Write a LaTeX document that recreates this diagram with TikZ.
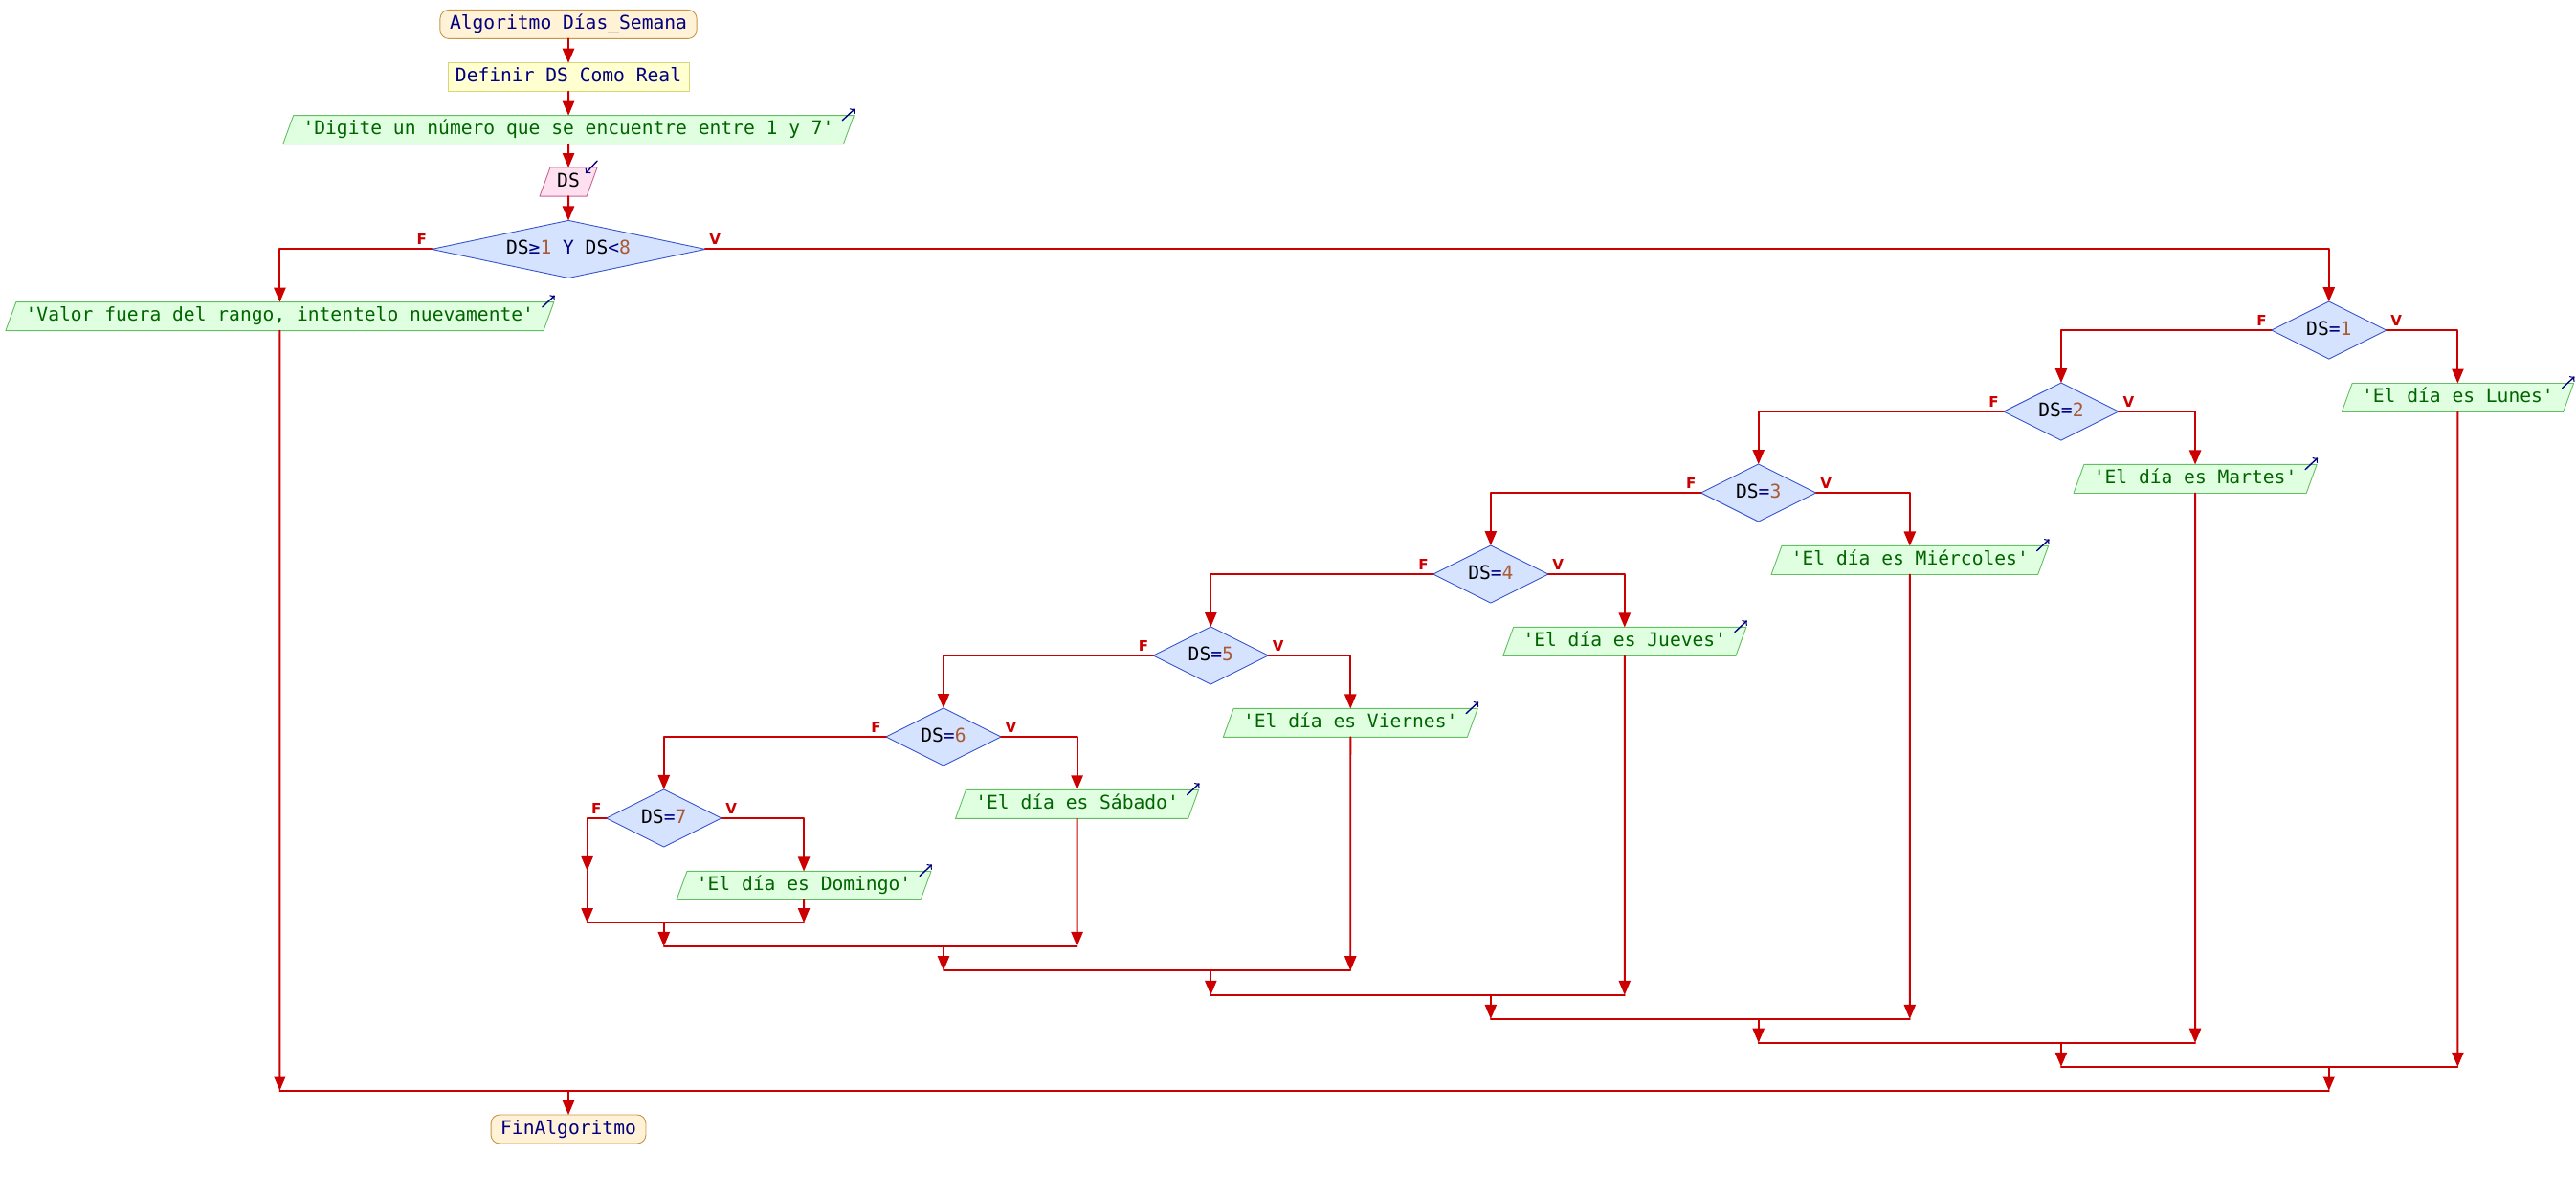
\documentclass[tikz,border=0pt]{standalone}
\usepackage{fontspec}
\setmonofont{DejaVu Sans Mono}
\setsansfont{DejaVu Sans}
\usetikzlibrary{arrows,shapes.geometric}
\definecolor{rojoflujo}{RGB}{204,0,0}
\definecolor{azulkw}{RGB}{0,0,128}
\definecolor{verdetxt}{RGB}{0,100,0}
\definecolor{marronnum}{RGB}{170,90,50}
\definecolor{rellenorombo}{RGB}{214,227,255}
\definecolor{borderombo}{RGB}{55,85,205}
\definecolor{rellenoterm}{RGB}{255,242,214}
\definecolor{bordeterm}{RGB}{200,150,70}
\definecolor{rellenodef}{RGB}{255,255,208}
\definecolor{bordedef}{RGB}{215,215,120}
\definecolor{rellenosal}{RGB}{224,255,224}
\definecolor{bordesal}{RGB}{100,190,100}
\definecolor{rellenoent}{RGB}{255,224,240}
\definecolor{bordeent}{RGB}{200,100,150}
\newcommand{\kw}[1]{\textcolor{azulkw}{#1}}
\newcommand{\nm}[1]{\textcolor{marronnum}{#1}}

\begin{document}
\begin{tikzpicture}[line cap=round,line join=round,>=triangle 45,x=0.04cm,y=0.04cm,
	caja/.style={draw,line width=0.6pt,outer sep=0pt,text height=9.6pt,text depth=2.9pt,inner ysep=3.7pt,font=\ttfamily\fontsize{13}{14}\selectfont},
	terminal/.style={caja,rectangle,rounded corners=6pt,fill=rellenoterm,draw=bordeterm,inner xsep=0.235cm,text=azulkw},
	definicion/.style={caja,rectangle,fill=rellenodef,draw=bordedef,inner xsep=0.186cm,text=azulkw},
	salida/.style={caja,trapezium,trapezium left angle=70,trapezium right angle=110,fill=rellenosal,draw=bordesal,inner xsep=0.23cm,text=verdetxt},
	entrada/.style={caja,trapezium,trapezium left angle=70,trapezium right angle=110,fill=rellenoent,draw=bordeent,inner xsep=0.17cm},
	rombo/.style={caja,diamond,aspect=3,inner sep=0pt,minimum width=2.8cm,minimum height=1.4cm,fill=rellenorombo,draw=borderombo},
	flujo/.style={draw=rojoflujo,line width=1.3pt},
	rotulo/.style={text=rojoflujo,font=\sffamily\bfseries\fontsize{10}{11}\selectfont,inner sep=0pt},
	icono/.style={draw=azulkw,line width=0.9pt,-to}]
	\useasboundingbox (0,0) rectangle (1568,-716);
	\node[terminal] (inicio) at (346,-14.8) {Algoritmo Días\_Semana};
	\node[definicion] (definir) at (346,-47) {Definir DS Como Real};
	\node[salida] (pedir) at (346,-79) {'Digite un número que se encuentre entre 1 y 7'};
	\node[entrada] (leer) at (346,-110.7) {DS};
	\node[rombo,aspect=5,minimum width=6.66cm] (cond) at (346,-151.7) {DS\kw{≥}\nm{1} \kw{Y} DS\kw{<}\nm{8}};
	\node[salida] (fuera) at (170.3,-192.6) {'Valor fuera del rango, intentelo nuevamente'};
	\node[rombo] (d1) at (1417.6,-201) {DS\kw{=}\nm{1}};
	\node[salida] (lunes) at (1496,-242) {'El día es Lunes'};
	\node[rombo] (d2) at (1254.6,-250.5) {DS\kw{=}\nm{2}};
	\node[salida] (martes) at (1336.2,-291.5) {'El día es Martes'};
	\node[rombo] (d3) at (1070.4,-300) {DS\kw{=}\nm{3}};
	\node[salida] (miercoles) at (1162.5,-341) {'El día es Miércoles'};
	\node[rombo] (d4) at (907.4,-349.5) {DS\kw{=}\nm{4}};
	\node[salida] (jueves) at (988.9,-390.5) {'El día es Jueves'};
	\node[rombo] (d5) at (737,-399) {DS\kw{=}\nm{5}};
	\node[salida] (viernes) at (822,-440) {'El día es Viernes'};
	\node[rombo] (d6) at (574.3,-448.5) {DS\kw{=}\nm{6}};
	\node[salida] (sabado) at (655.6,-489.5) {'El día es Sábado'};
	\node[rombo] (d7) at (404.1,-498) {DS\kw{=}\nm{7}};
	\node[salida] (domingo) at (489.3,-539) {'El día es Domingo'};
	\node[terminal] (fin) at (346,-687.3) {FinAlgoritmo};
	\coordinate (c7) at (357.4,-530);
	\coordinate (j7l) at (357.4,-561.5);
	\coordinate (j7m) at (404.1,-561.5);
	\coordinate (j7r) at (489.3,-561.5);
	\coordinate (j6l) at (404.1,-576);
	\coordinate (j6m) at (574.3,-576);
	\coordinate (j6r) at (655.6,-576);
	\coordinate (j5l) at (574.3,-590.7);
	\coordinate (j5m) at (737,-590.7);
	\coordinate (j5r) at (822,-590.7);
	\coordinate (j4l) at (737,-605.6);
	\coordinate (j4m) at (907.4,-605.6);
	\coordinate (j4r) at (988.9,-605.6);
	\coordinate (j3l) at (907.4,-620.2);
	\coordinate (j3m) at (1070.4,-620.2);
	\coordinate (j3r) at (1162.5,-620.2);
	\coordinate (j2l) at (1070.4,-634.7);
	\coordinate (j2m) at (1254.6,-634.7);
	\coordinate (j2r) at (1336.2,-634.7);
	\coordinate (j1l) at (1254.6,-649.3);
	\coordinate (j1m) at (1417.6,-649.3);
	\coordinate (j1r) at (1496,-649.3);
	\coordinate (j0l) at (170.3,-663.8);
	\coordinate (j0m) at (346,-663.8);
	\coordinate (j0r) at (1417.6,-663.8);
	\draw[flujo,->] (inicio) -- (definir);
	\draw[flujo,->] (definir) -- (pedir);
	\draw[flujo,->] (pedir) -- (leer);
	\draw[flujo,->] (leer) -- (cond);
	\draw[flujo,->] (cond.west) -| (fuera.north);
	\draw[flujo,->] (cond.east) -| (d1.north);
	\draw[flujo,->] (d1.east) -| (lunes.north);
	\draw[flujo,->] (d1.west) -| (d2.north);
	\draw[flujo,->] (d2.east) -| (martes.north);
	\draw[flujo,->] (d2.west) -| (d3.north);
	\draw[flujo,->] (d3.east) -| (miercoles.north);
	\draw[flujo,->] (d3.west) -| (d4.north);
	\draw[flujo,->] (d4.east) -| (jueves.north);
	\draw[flujo,->] (d4.west) -| (d5.north);
	\draw[flujo,->] (d5.east) -| (viernes.north);
	\draw[flujo,->] (d5.west) -| (d6.north);
	\draw[flujo,->] (d6.east) -| (sabado.north);
	\draw[flujo,->] (d6.west) -| (d7.north);
	\draw[flujo,->] (d7.east) -| (domingo.north);
	\draw[flujo,->] (d7.west) -| (c7);
	\draw[flujo,->] (c7) -- (j7l);
	\draw[flujo,->] (domingo) -- (j7r);
	\draw[flujo] (j7l) -- (j7r);
	\draw[flujo,->] (j7m) -- (j6l);
	\draw[flujo,->] (sabado) -- (j6r);
	\draw[flujo] (j6l) -- (j6r);
	\draw[flujo,->] (j6m) -- (j5l);
	\draw[flujo,->] (viernes) -- (j5r);
	\draw[flujo] (j5l) -- (j5r);
	\draw[flujo,->] (j5m) -- (j4l);
	\draw[flujo,->] (jueves) -- (j4r);
	\draw[flujo] (j4l) -- (j4r);
	\draw[flujo,->] (j4m) -- (j3l);
	\draw[flujo,->] (miercoles) -- (j3r);
	\draw[flujo] (j3l) -- (j3r);
	\draw[flujo,->] (j3m) -- (j2l);
	\draw[flujo,->] (martes) -- (j2r);
	\draw[flujo] (j2l) -- (j2r);
	\draw[flujo,->] (j2m) -- (j1l);
	\draw[flujo,->] (lunes) -- (j1r);
	\draw[flujo] (j1l) -- (j1r);
	\draw[flujo,->] (j1m) -- (j0r);
	\draw[flujo,->] (fuera) -- (j0l);
	\draw[flujo] (j0l) -- (j0r);
	\draw[flujo,->] (j0m) -- (fin);
	\node[rotulo] (condf) at ([shift={(-6,6)}]cond.west) {F};
	\node[rotulo] (condv) at ([shift={(6,6)}]cond.east) {V};
	\node[rotulo] (d1f) at ([shift={(-6,6)}]d1.west) {F};
	\node[rotulo] (d1v) at ([shift={(6,6)}]d1.east) {V};
	\node[rotulo] (d2f) at ([shift={(-6,6)}]d2.west) {F};
	\node[rotulo] (d2v) at ([shift={(6,6)}]d2.east) {V};
	\node[rotulo] (d3f) at ([shift={(-6,6)}]d3.west) {F};
	\node[rotulo] (d3v) at ([shift={(6,6)}]d3.east) {V};
	\node[rotulo] (d4f) at ([shift={(-6,6)}]d4.west) {F};
	\node[rotulo] (d4v) at ([shift={(6,6)}]d4.east) {V};
	\node[rotulo] (d5f) at ([shift={(-6,6)}]d5.west) {F};
	\node[rotulo] (d5v) at ([shift={(6,6)}]d5.east) {V};
	\node[rotulo] (d6f) at ([shift={(-6,6)}]d6.west) {F};
	\node[rotulo] (d6v) at ([shift={(6,6)}]d6.east) {V};
	\node[rotulo] (d7f) at ([shift={(-6,6)}]d7.west) {F};
	\node[rotulo] (d7v) at ([shift={(6,6)}]d7.east) {V};
	\draw[icono] ([shift={(0,4)}]leer.top right corner) -- ([shift={(-7,-3.5)}]leer.top right corner);
	\draw[icono] ([shift={(-7,-3)}]pedir.top right corner) -- ([shift={(0.5,4)}]pedir.top right corner);
	\draw[icono] ([shift={(-7,-3)}]fuera.top right corner) -- ([shift={(0.5,4)}]fuera.top right corner);
	\draw[icono] ([shift={(-7,-3)}]lunes.top right corner) -- ([shift={(0.5,4)}]lunes.top right corner);
	\draw[icono] ([shift={(-7,-3)}]martes.top right corner) -- ([shift={(0.5,4)}]martes.top right corner);
	\draw[icono] ([shift={(-7,-3)}]miercoles.top right corner) -- ([shift={(0.5,4)}]miercoles.top right corner);
	\draw[icono] ([shift={(-7,-3)}]jueves.top right corner) -- ([shift={(0.5,4)}]jueves.top right corner);
	\draw[icono] ([shift={(-7,-3)}]viernes.top right corner) -- ([shift={(0.5,4)}]viernes.top right corner);
	\draw[icono] ([shift={(-7,-3)}]sabado.top right corner) -- ([shift={(0.5,4)}]sabado.top right corner);
	\draw[icono] ([shift={(-7,-3)}]domingo.top right corner) -- ([shift={(0.5,4)}]domingo.top right corner);
\end{tikzpicture}
\end{document}
